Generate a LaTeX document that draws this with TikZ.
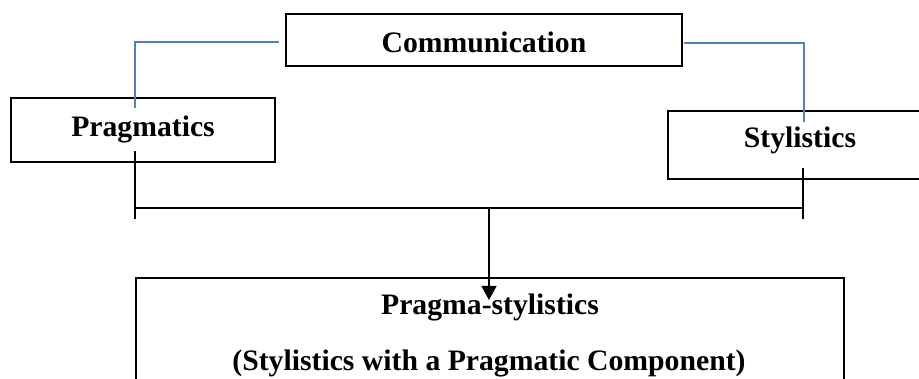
\documentclass[tikz,border=0pt]{standalone}
\usepackage{fontspec}
\setmainfont{Liberation Serif}
\usetikzlibrary{arrows.meta}
\definecolor{connblue}{HTML}{4F81BD}
\begin{document}
\begin{tikzpicture}[x=1pt,y=-1pt,
  boxshape/.style={draw=black,line width=1.4pt,inner sep=0pt},
  lbl/.style={inner sep=0pt,anchor=base,font=\fontsize{29.7}{34}\selectfont\bfseries},
  blueline/.style={draw=connblue,line width=1.3pt},
  blackline/.style={draw=black,line width=1.3pt}]
\useasboundingbox (0,0) rectangle (919,379);
\fill[white] (0,0) rectangle (919,379);
\clip (0,0) rectangle (919,379);
% boxes
\node[boxshape,minimum width=396pt,minimum height=52pt] (comm) at (484,40) {};
\node[boxshape,minimum width=264pt,minimum height=64pt] (prag) at (143,130) {};
\node[boxshape,minimum width=256pt,minimum height=68pt] (styl) at (796,145) {};
\node[boxshape,minimum width=708pt,minimum height=140pt] (ps) at (490,348) {};
% labels
\node[lbl] (commt) at (484,53) {Communication};
\node[lbl] (pragt) at (143,137) {Pragmatics};
\node[lbl] (stylt) at (800,148) {Stylistics};
\node[lbl] (pst) at (490,315) {Pragma-stylistics};
\node[lbl] (psu) at (489,371) {(Stylistics with a Pragmatic Component)};
% blue connectors
\coordinate (cl) at (279,42);
\coordinate (pl) at (135,108);
\coordinate (cr) at (684,43);
\coordinate (sr) at (804,122);
\draw[blueline] (cl) -| (pl);
\draw[blueline] (cr) -| (sr);
% black connectors
\coordinate (pa) at (135,151);
\coordinate (pb) at (135,219);
\coordinate (sa) at (803,168);
\coordinate (sb) at (803,219);
\coordinate (ja) at (135,208);
\coordinate (jb) at (803,208);
\coordinate (jm) at (489,208);
\coordinate (tip) at (489,300);
\draw[blackline] (pa) -- (pb);
\draw[blackline] (sa) -- (sb);
\draw[blackline] (ja) -- (jb);
\draw[blackline,-{Triangle[length=14pt,width=15pt]}] (jm) -- (tip);
\end{tikzpicture}
\end{document}
